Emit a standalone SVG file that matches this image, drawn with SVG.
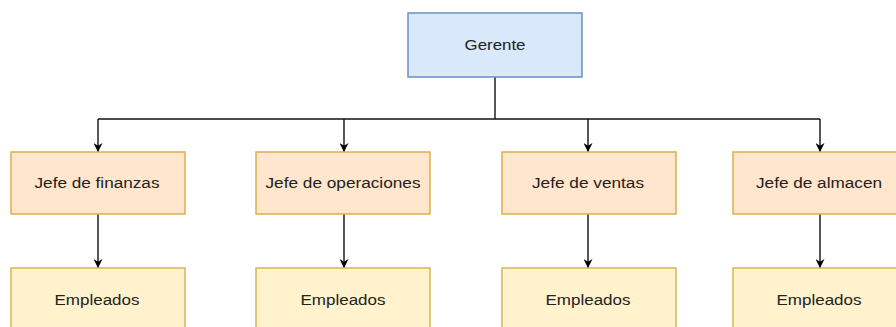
<svg xmlns="http://www.w3.org/2000/svg" width="896" height="327" viewBox="0 0 896 327">
<style>
.boss{fill:#dae8fc;stroke:#6c8ebf;stroke-width:1.5}
.jefe{fill:#ffe6cc;stroke:#dcb04c;stroke-width:1.5}
.emp{fill:#fff2cc;stroke:#d6b656;stroke-width:1.5}
text{font-family:"Liberation Sans",Arial,sans-serif;font-size:14px;fill:#222;text-anchor:middle}
.edge{fill:none;stroke:#111;stroke-width:1.4}
</style>
<defs>
<marker id="arr" viewBox="0 0 10 10" refX="10" refY="5" markerWidth="9" markerHeight="9" markerUnits="userSpaceOnUse" orient="auto">
<path d="M0,0 L10,5 L0,10 L3,5 Z" fill="#000"/>
</marker>
</defs>
<g id="connectors">
<path class="edge" d="M495,77 V119"/>
<path class="edge" d="M98,119 H820"/>
<path class="edge" d="M98,119 V152" marker-end="url(#arr)"/>
<path class="edge" d="M344,119 V152" marker-end="url(#arr)"/>
<path class="edge" d="M588,119 V152" marker-end="url(#arr)"/>
<path class="edge" d="M820,119 V152" marker-end="url(#arr)"/>
<path class="edge" d="M98,214 V268" marker-end="url(#arr)"/>
<path class="edge" d="M344,214 V268" marker-end="url(#arr)"/>
<path class="edge" d="M588,214 V268" marker-end="url(#arr)"/>
<path class="edge" d="M820,214 V268" marker-end="url(#arr)"/>
</g>
<g id="gerente"><rect class="boss" x="408" y="13" width="174" height="64"/><text x="495" y="50" textLength="61" lengthAdjust="spacingAndGlyphs">Gerente</text></g>
<g id="jefe-finanzas"><rect class="jefe" x="11" y="152" width="174" height="62"/><text x="97" y="188" textLength="125" lengthAdjust="spacingAndGlyphs">Jefe de finanzas</text></g>
<g id="jefe-operaciones"><rect class="jefe" x="256" y="152" width="174" height="62"/><text x="343" y="188" textLength="155" lengthAdjust="spacingAndGlyphs">Jefe de operaciones</text></g>
<g id="jefe-ventas"><rect class="jefe" x="502" y="152" width="174" height="62"/><text x="588" y="188" textLength="112" lengthAdjust="spacingAndGlyphs">Jefe de ventas</text></g>
<g id="jefe-almacen"><rect class="jefe" x="733" y="152" width="174" height="62"/><text x="819" y="188" textLength="126" lengthAdjust="spacingAndGlyphs">Jefe de almacen</text></g>
<g id="empleados-1"><rect class="emp" x="11" y="268" width="174" height="64"/><text x="97" y="305" textLength="85" lengthAdjust="spacingAndGlyphs">Empleados</text></g>
<g id="empleados-2"><rect class="emp" x="256" y="268" width="174" height="64"/><text x="343" y="305" textLength="85" lengthAdjust="spacingAndGlyphs">Empleados</text></g>
<g id="empleados-3"><rect class="emp" x="502" y="268" width="174" height="64"/><text x="588" y="305" textLength="85" lengthAdjust="spacingAndGlyphs">Empleados</text></g>
<g id="empleados-4"><rect class="emp" x="733" y="268" width="174" height="64"/><text x="819" y="305" textLength="85" lengthAdjust="spacingAndGlyphs">Empleados</text></g>
</svg>
